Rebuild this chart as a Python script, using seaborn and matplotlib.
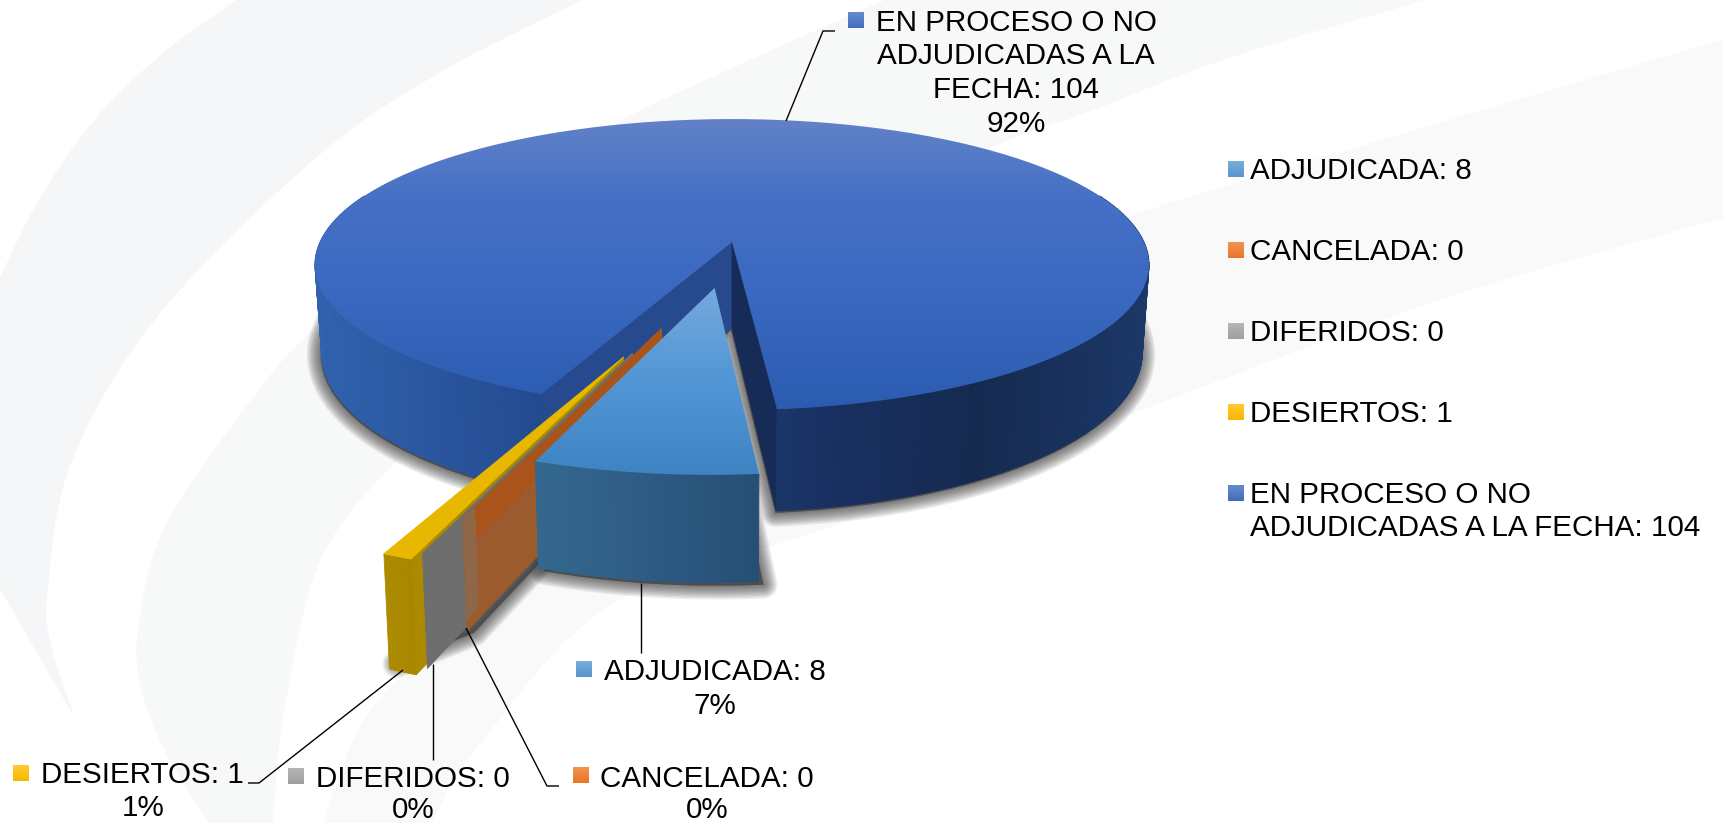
import numpy as np
import matplotlib
matplotlib.use("Agg")
import matplotlib.pyplot as plt
from matplotlib.colors import LinearSegmentedColormap, to_rgb
from matplotlib.patches import Polygon
import seaborn as sns

# data
categorias = ["ADJUDICADA", "CANCELADA", "DIFERIDOS", "DESIERTOS", "EN PROCESO O NO ADJUDICADAS A LA FECHA"]
valores = [8, 0, 0, 1, 104]
colores = ["#5B9BD5", "#F27A2A", "#A5A5A5", "#FFC000", "#4472C4"]

sns.set_theme(style="white")
plt.rcParams["font.family"] = ["Liberation Sans", "DejaVu Sans"]

# layout of the fake 3d pie (pixels of the 1723x823 picture)
CX, Y0, RX, RY, K, H = 732, 242, 412, 142, 0.155, 86
START = 174.7
EXPLOTA = [0.31, 0.58, 0.73, 0.757, 0.0]
GIRO = [0, 4.5, 3.0, 3.8, 0]

fig = plt.figure(figsize=(17.23, 8.23), dpi=100)
ax = fig.add_axes([0, 0, 1, 1])
capa = 1


def siguiente():
    global capa
    capa += 1
    return capa


def proj(u, v, z=0.0):
    w = 1 + K * v
    x = CX + RX * u / w * (1 - 0.016 * z / H)
    y = Y0 - RY * v / w + z / w
    return x, y


def arco(a0, a1, du, dv, z=0.0, n=120):
    a = np.radians(np.linspace(a0, a1, n))
    return np.column_stack(proj(np.sin(a) + du, np.cos(a) + dv, z))


def gradiente_y(pts, stops):
    # vertical gradient clipped to a polygon
    ys = np.array([s[0] for s in stops])
    cmap = LinearSegmentedColormap.from_list(
        "g", [((y - ys[0]) / (ys[-1] - ys[0]), c) for y, c in stops])
    img = ax.imshow(np.linspace(0, 1, 256).reshape(-1, 1), cmap=cmap, aspect="auto",
                    extent=(0, 1723, ys[-1], ys[0]), zorder=siguiente(), interpolation="bilinear")
    clip = Polygon(pts, transform=ax.transData, fc="none", ec="none")
    ax.add_patch(clip)
    img.set_clip_path(clip)


def poli(pts, color, lw=0.6):
    ax.add_patch(Polygon(pts, fc=color, ec=color, lw=lw, zorder=siguiente()))


def pared(a0, a1, du, dv, xs, cs, n=90):
    # outer wall as thin strips, colour follows x
    cmap = LinearSegmentedColormap.from_list(
        "w", [((x - xs[0]) / (xs[-1] - xs[0]), c) for x, c in zip(xs, cs)])
    ang = np.linspace(a0, a1, n + 1)
    for a, b in zip(ang[:-1], ang[1:]):
        p0 = arco(a, b, du, dv, 0, 2)
        p1 = arco(b, a, du, dv, H, 2)
        t = (p0[:, 0].mean() - xs[0]) / (xs[-1] - xs[0])
        poli(np.vstack([p0, p1]), cmap(np.clip(t, 0, 1)))


def sombra(pts, dx, dy, tope=None, capas=10, ancho=2.0, alpha=0.085):
    # soft shadow, stacked strokes that get narrower
    p = np.array(pts, dtype=float) + [dx, dy]
    if tope is not None:
        p[:, 1] = np.minimum(p[:, 1], tope)
    for i in range(capas):
        ax.add_patch(Polygon(p, fc="#303030", ec="#303030", lw=(capas - i) * ancho, alpha=alpha,
                             joinstyle="round", zorder=siguiente()))


def suave(pts, n=24):
    # catmull-rom through the outline points, only used for the background swooshes
    p = np.array(pts, dtype=float)
    p = np.vstack([2 * p[0] - p[1], p, 2 * p[-1] - p[-2]])
    out = []
    for i in range(1, len(p) - 2):
        for t in np.linspace(0, 1, n, endpoint=False):
            out.append(0.5 * (2 * p[i] + (p[i + 1] - p[i - 1]) * t
                              + (2 * p[i - 1] - 5 * p[i] + 4 * p[i + 1] - p[i + 2]) * t ** 2
                              + (3 * p[i] - p[i - 1] - 3 * p[i + 1] + p[i + 2]) * t ** 3))
    out.append(p[-2])
    return np.array(out)


# background swooshes
banda1 = np.vstack([
    suave([(237, 0), (165, 52), (95, 120), (40, 199), (0, 278)]),
    suave([(0, 588), (73, 714)]),
    suave([(73, 714), (52, 650), (47, 593), (71, 462), (158, 315), (316, 157), (440, 72), (581, 0)]),
])
banda2 = np.vstack([
    suave([(209, 823), (165, 750), (140, 682), (140, 619), (166, 525), (245, 409), (312, 331),
           (440, 225), (609, 127), (740, 65), (886, 0)]),
    suave([(1424, 0), (1230, 57), (1092, 110), (1000, 143), (820, 215), (600, 325), (470, 405), (395, 462),
           (320, 560), (284, 709), (272, 823)]),
])
banda3 = np.vstack([
    suave([(1723, 40), (1400, 135), (1129, 217), (900, 305), (700, 410), (520, 535), (395, 682), (356, 735), (324, 823)]),
    suave([(430, 823), (480, 743), (613, 603), (840, 523), (1140, 410), (1438, 300), (1723, 217)]),
])
poli(banda1, "#F5F6F7")
poli(banda2, "#F7F8F8")
poli(banda3, "#F9F9F9")

# angles from the values, clockwise from north
total = sum(valores)
grados = np.array(valores) / total * 360
ini = START + np.concatenate([[0], np.cumsum(grados)[:-1]])
fin = ini + grados
desp = []
for i in range(len(valores)):
    m = np.radians((ini[i] + fin[i]) / 2 - GIRO[i])
    desp.append((EXPLOTA[i] * np.sin(m), EXPLOTA[i] * np.cos(m)))


def cuna(i, z=0.0):
    du, dv = desp[i]
    ap = np.array(proj(du, dv, z))
    return np.vstack([ap, arco(ini[i], max(fin[i], ini[i] + 0.01), du, dv, z)])


# shadows
sombra(cuna(4, H), -1, 2)
sombra(cuna(0, H), 5, 3)
sombra(np.vstack([cuna(1, H)[[0, -1]], cuna(3, H)[-1:]]), 7, 2, tope=664)

# main slice
du, dv = desp[4]
a_izq, a_der = ini[4], fin[4]
ap_t, ap_b = proj(du, dv), proj(du, dv, H)
r_izq_t, r_izq_b = arco(a_izq, a_izq, du, dv, 0, 1)[0], arco(a_izq, a_izq, du, dv, H, 1)[0]
r_der_t, r_der_b = arco(a_der, a_der, du, dv, 0, 1)[0], arco(a_der, a_der, du, dv, H, 1)[0]
pared(a_izq, 290, du, dv, [315, 430, 542], ["#3062AF", "#2A569F", "#224A90"])
poli([ap_t, r_izq_t, r_izq_b, ap_b], "#274A8F")
poli([ap_t, r_der_t, r_der_b, ap_b], "#162B55")
pared(70 + 360, a_der, du, dv, [777, 860, 980, 1150], ["#1A3568", "#182F5E", "#152A50", "#1C3868"])
gradiente_y(cuna(4), [(119, "#6282C8"), (200, "#4570C5"), (300, "#3A68C0"), (410, "#2B5CB0")])


def pared_radial(i, color, z0=0.0, z1=H):
    du, dv = desp[i]
    a = ini[i]
    poli([proj(du, dv, z0), arco(a, a, du, dv, z0, 1)[0], arco(a, a, du, dv, z1, 1)[0], proj(du, dv, z1)], color)


# desiertos: wall, then top, gris and naranja walls lie in front of its side
du, dv = desp[3]
pared_radial(3, "#AC8A00")
pared(ini[3], fin[3], du, dv, [380, 410], ["#AE8C00", "#A88600"], n=8)
pared_radial(2, "#6E6E6E")
pared_radial(1, "#9B5B2D")
pared_radial(1, "#A8541A", 0, H * 0.28)
# the thin greyish overlap next to the orange corner
d1, d2 = desp[1]
a1 = ini[1]
bor = np.array(arco(a1, a1, d1, d2, 0, 1)[0])
apx = np.array(proj(d1, d2))
bor_b = np.array(arco(a1, a1, d1, d2, H, 1)[0])
apx_b = np.array(proj(d1, d2, H))
poli([bor, bor + (apx - bor) * 0.06, bor_b + (apx_b - bor_b) * 0.06 - [0, 12], bor_b - [0, 10]], "#8F6648")
# yellow stripe stays on top of the zero slices
poli(cuna(3), "#E8B800")

# adjudicada
du, dv = desp[0]
pared(ini[0], fin[0], du, dv, [530, 640, 755], ["#34688F", "#2E5C85", "#264F75"], n=30)
gradiente_y(cuna(0), [(288, "#76A9DC"), (380, "#5296D6"), (478, "#3E83C1")])


def cuadro(x0, y0, color):
    base = np.array(to_rgb(color))
    claro = base + (1 - base) * 0.18
    oscuro = base * 0.96
    cm = LinearSegmentedColormap.from_list("k", [claro, oscuro])
    ax.imshow(np.linspace(0, 1, 32).reshape(-1, 1), cmap=cm, aspect="auto",
              extent=(x0, x0 + 16, y0 + 16, y0), zorder=siguiente())


FS = 21.3
zt = 500


def texto(x, y, s, ha="left"):
    ax.text(x, y, s, fontsize=FS, color="black", ha=ha, va="baseline", zorder=zt)


def guia(xs, ys):
    ax.plot(xs, ys, color="black", lw=1.0, zorder=zt, solid_capstyle="butt")


pct = [f"{round(v / total * 100)}%" for v in valores]
etq = [f"{c}: {v}" for c, v in zip(categorias, valores)]

# data labels
cuadro(848, 12, colores[4])
texto(1016, 31, "EN PROCESO O NO", "center")
texto(1016, 64, "ADJUDICADAS A LA", "center")
texto(1016, 98, "FECHA: 104", "center")
texto(1016, 132, pct[4], "center")
guia([786, 823, 835], [121, 31, 31])

cuadro(576, 661, colores[0])
texto(715, 680, etq[0], "center")
texto(715, 714, pct[0], "center")
guia([641, 641], [583, 653])

cuadro(573, 767, colores[1])
texto(707, 787, etq[1], "center")
texto(707, 818, pct[1], "center")
guia([466, 547, 559], [628, 786, 786])

cuadro(288, 768, colores[2])
texto(413, 787, etq[2], "center")
texto(413, 818, pct[2], "center")
guia([433, 433], [664, 760])

cuadro(13, 765, colores[3])
texto(142, 783, etq[3], "center")
texto(143, 816, pct[3], "center")
guia([403, 259, 248], [670, 783, 783])

# legend on the right
filas = [179, 260, 341, 422, 503]
for i, y in enumerate(filas):
    cuadro(1228, y - 18, colores[i])
    if i < 4:
        texto(1250, y, etq[i])
texto(1250, 503, "EN PROCESO O NO")
texto(1250, 536, "ADJUDICADAS A LA FECHA: 104")

ax.set_xlim(0, 1723)
ax.set_ylim(823, 0)
ax.axis("off")
fig.savefig("out.png", dpi=100)
